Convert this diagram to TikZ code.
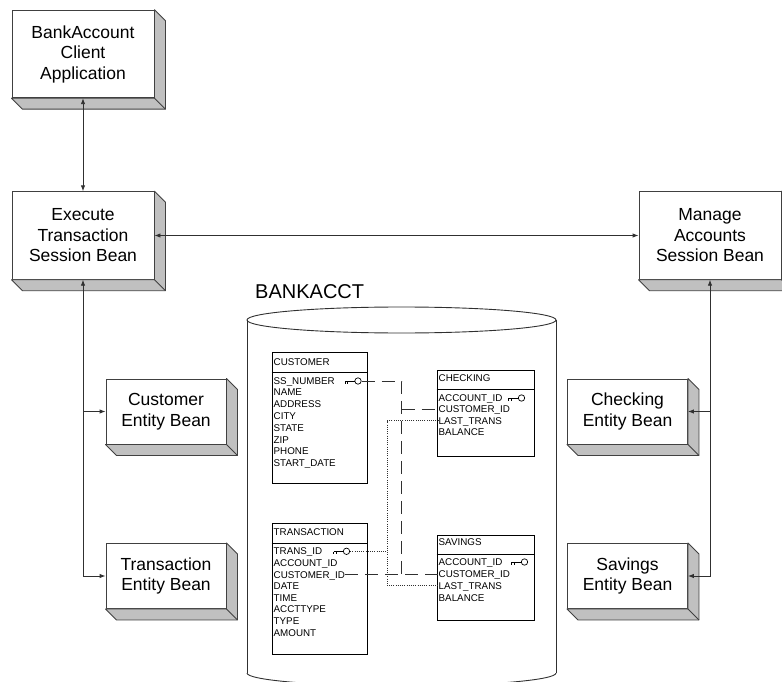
\documentclass[tikz,border=0pt]{standalone}
\usepackage{fontspec}
\setmainfont{Liberation Sans}
\usetikzlibrary{arrows.meta}
\definecolor{edge}{HTML}{404040}
\definecolor{shadegray}{HTML}{C0C0C0}
\definecolor{wire}{HTML}{303030}
\newcommand\boxshadow[1]{%
  \filldraw[draw=edge, fill=shadegray, line width=0.9pt, line join=round]
    (#1.north east) -- ([shift={(11,11)}]#1.north east)
    -- ([shift={(11,11)}]#1.south east) -- ([shift={(11,11)}]#1.south west)
    -- (#1.south west) -- (#1.south east) -- cycle;
  \draw[edge, line width=0.9pt] (#1.south east) -- ([shift={(11,11)}]#1.south east);}
\tikzset{
  frontbox/.style={draw=edge, fill=white, line width=0.9pt, inner sep=0pt, align=center,
    font=\fontsize{17.5}{20.5}\selectfont},
  sessbox/.style={frontbox, minimum width=142pt, minimum height=87.5pt},
  entbox/.style={frontbox, minimum width=120pt, minimum height=65pt},
  arr/.style={wire, line width=0.9pt, -{Latex[length=6pt,width=4.5pt]}},
  biarr/.style={wire, line width=0.9pt, {Latex[length=6pt,width=4.5pt]}-{Latex[length=6pt,width=4.5pt]}},
  tbl/.style={draw=black, line width=0.8pt, inner sep=0pt, anchor=north west},
  col/.style={anchor=west, inner sep=0pt, text height=7pt, text depth=0pt,
    font=\fontsize{9.8}{11}\selectfont},
  fkdash/.style={wire, line width=0.9pt, dash pattern=on 13pt off 7pt},
  fkdot/.style={wire, line width=0.8pt, dash pattern=on 1pt off 1.2pt},
  keyicon/.pic={
    \draw[black, line width=0.7pt] (0,0) circle[radius=3.2];
    \draw[black, line width=0.7pt] (-3.2,0.4) -- (-13,0.4) (-13,0.4) -- (-13,2.6) (-10.5,0.4) -- (-10.5,2.6);
    \coordinate (-tip) at (3.6,0);
  }
}
\begin{document}
\begin{tikzpicture}[x=1pt,y=-1pt]
\useasboundingbox (0,0) rectangle (782,682);
\clip (0,0) rectangle (782,682);

% session and entity beans
\node[sessbox] (client) at (83,54) {BankAccount\\Client\\Application};
\node[sessbox] (exec) at (83,235.5) {Execute\\Transaction\\Session Bean};
\node[sessbox] (manage) at (710,235.5) {Manage\\Accounts\\Session Bean};
\node[entbox] (cust) at (166,411.5) {Customer\\Entity Bean};
\node[entbox] (trans) at (166,576) {Transaction\\Entity Bean};
\node[entbox] (chk) at (627.5,411.5) {Checking\\Entity Bean};
\node[entbox] (sav) at (627.5,576) {Savings\\Entity Bean};
\foreach \b in {client,exec,manage,cust,trans,chk,sav} {\boxshadow{\b}}

% connectors between beans
\draw[biarr] (client.south) -- (exec.north);
\draw[biarr] (exec.east) -- (manage.west);
\draw[biarr] (exec.south) -- (exec.south |- trans.west) -- (trans.west);
\draw[arr] (exec.south |- cust.west) -- (cust.west);
\draw[biarr] (manage.south) -- (manage.south |- sav.east) -- (sav.east);
\draw[arr] (manage.south |- chk.east) -- (chk.east);

% database cylinder
\node[anchor=base west, inner sep=0pt, font=\fontsize{20}{24}\selectfont] (dbname) at (255,298) {BANKACCT};
\draw[wire, line width=0.9pt] (401.5,320) ellipse[x radius=154.5, y radius=13];
\draw[wire, line width=0.9pt] (247,320) -- (247,673);
\draw[wire, line width=0.9pt] (556,320) -- (556,673);
\begin{scope}
  \clip (240,673) rectangle (565,700);
  \draw[wire, line width=0.9pt] (401.5,673) ellipse[x radius=154.5, y radius=13];
\end{scope}

% tables
\node[tbl, minimum width=95.3pt, minimum height=131.3pt] (tcust) at (271.7,351.7) {};
\draw[black, line width=0.8pt] (271.7,372.7) -- (367,372.7);
\node[col] (custh) at (273.5,361.7) {CUSTOMER};
\foreach \t [count=\i from 0] in {SS\_NUMBER,NAME,ADDRESS,CITY,STATE,ZIP,PHONE,START\_DATE}
  \node[col] (cu\i) at (273.5,{380.5+11.8*\i}) {\t};

\node[tbl, minimum width=97.3pt, minimum height=86pt] (tchk) at (436.7,370) {};
\draw[black, line width=0.8pt] (436.7,389) -- (534,389);
\node[col] (chkh) at (438.5,378) {CHECKING};
\foreach \t [count=\i from 0] in {ACCOUNT\_ID,CUSTOMER\_ID,LAST\_TRANS,BALANCE}
  \node[col] (ck\i) at (438.5,{398+11.4*\i}) {\t};

\node[tbl, minimum width=95.3pt, minimum height=131.3pt] (ttr) at (271.7,522.7) {};
\draw[black, line width=0.8pt] (271.7,543) -- (367,543);
\node[col] (trh) at (273.5,531.7) {TRANSACTION};
\foreach \t [count=\i from 0] in {TRANS\_ID,ACCOUNT\_ID,CUSTOMER\_ID,DATE,TIME,ACCTTYPE,TYPE,AMOUNT}
  \node[col] (tr\i) at (273.5,{551.3+11.6*\i}) {\t};

\node[tbl, minimum width=97.3pt, minimum height=85pt] (tsav) at (436.7,535) {};
\draw[black, line width=0.8pt] (436.7,554) -- (534,554);
\node[col] (savh) at (438.5,542) {SAVINGS};
\foreach \t [count=\i from 0] in {ACCOUNT\_ID,CUSTOMER\_ID,LAST\_TRANS,BALANCE}
  \node[col] (sv\i) at (438.5,{562+11.9*\i}) {\t};

% key icons
\pic (kc) at (358,381) {keyicon};
\pic (kk) at (521.5,398) {keyicon};
\pic (kt) at (346.5,551.3) {keyicon};
\pic (ks) at (524.5,562) {keyicon};

% foreign key links
\coordinate (dcol) at (401.7,0);
\coordinate (pcol) at (387.3,0);
\draw[fkdash] (kc-tip) -- (kc-tip -| dcol) -- (dcol |- tr2.east);
\draw[fkdash] (dcol |- ck1.west) -- (ck1.west);
\draw[fkdash] (tr2.east) -- (tr2.east -| sv1.west);
\draw[fkdot] (kt-tip) -- (kt-tip -| pcol);
\draw[fkdot] (ck2.west) -- (ck2.west -| pcol) -- (pcol |- sv2.west) -- (sv2.west);
\end{tikzpicture}
\end{document}
